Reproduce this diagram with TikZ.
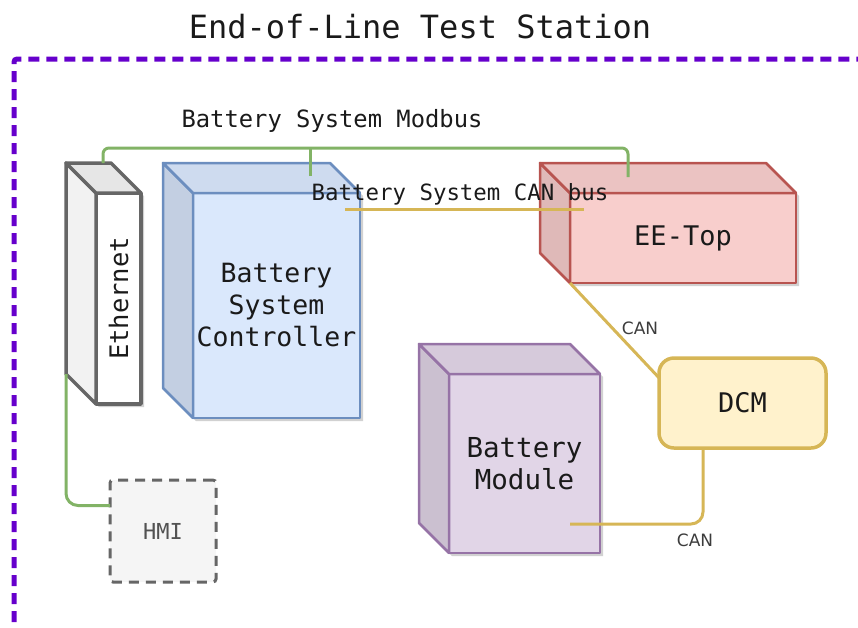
\documentclass[tikz,border=0pt]{standalone}
\usepackage{fontspec}
\setmonofont{DejaVu Sans Mono}
\newfontfamily\labelsans{DejaVu Sans}
\usetikzlibrary{calc,backgrounds}

\definecolor{frame}{HTML}{6600CC}
\definecolor{modbus}{HTML}{82B366}
\definecolor{canline}{HTML}{D6B656}
\definecolor{grayline}{HTML}{666666}
\definecolor{ethside}{HTML}{F2F2F2}
\definecolor{ethtopc}{HTML}{E6E6E6}
\definecolor{bscline}{HTML}{6C8EBF}
\definecolor{bscfront}{HTML}{DAE8FC}
\definecolor{bscside}{HTML}{C3CFE2}
\definecolor{bsctopc}{HTML}{CEDBEF}
\definecolor{eeline}{HTML}{B85450}
\definecolor{eefront}{HTML}{F8CECC}
\definecolor{eeside}{HTML}{DFB9B8}
\definecolor{eetopc}{HTML}{EBC3C2}
\definecolor{bmline}{HTML}{9673A6}
\definecolor{bmfront}{HTML}{E1D5E7}
\definecolor{bmside}{HTML}{CBC0D0}
\definecolor{bmtopc}{HTML}{D6CADB}
\definecolor{dcmfill}{HTML}{FFF2CC}
\definecolor{hmifill}{HTML}{F5F5F5}
\definecolor{txt}{HTML}{1A1A1A}

% side and top faces of a box drawn behind its front face node #1
\newcommand{\boxfaces}[5]{%
  \begin{scope}[on background layer]
    \fill[black,opacity=0.18]
      ($(#1.north west)+(-27,-27)$) -- ($(#1.north east)+(-27,-27)$) --
      ($(#1.north east)+(3,3)$) -- ($(#1.south east)+(3,3)$) --
      ($(#1.south west)+(3,3)$) -- ($(#1.south west)+(-27,-27)$) -- cycle;
  \end{scope}
  \filldraw[fill=#2,draw=#4,line width=#5,line join=round]
    (#1.north west) -- ++(-30,-30) -- ($(#1.south west)+(-30,-30)$) -- (#1.south west) -- cycle;
  \filldraw[fill=#3,draw=#4,line width=#5,line join=round]
    (#1.north west) -- ++(-30,-30) -- ($(#1.north east)+(-30,-30)$) -- (#1.north east) -- cycle;
}

\begin{document}
\begin{tikzpicture}[x=1pt,y=-1pt,
  boxfront/.style={rectangle,outer sep=0pt,inner sep=0pt,line join=round,align=center,text=txt},
  busgreen/.style={draw=modbus,line width=3pt},
  busyellow/.style={draw=canline,line width=3pt},
  monotext/.style={font=\ttfamily\fontsize{#1}{32}\selectfont,text=txt,inner sep=0pt},
  canlabel/.style={font=\labelsans\fontsize{17}{20}\selectfont,text=txt!85,inner sep=0pt}]
\useasboundingbox (0,0) rectangle (858,627);
\clip (0,0) rectangle (858,627);

% title
\node[monotext=32] (title) at (420,27) {End-of-Line Test Station};

% station frame
\draw[frame,line width=5pt,dash pattern=on 11pt off 7pt,rounded corners=3]
  (14,640) -- (14,59) -- (870,59);

% Ethernet switch
\node[boxfront,draw=grayline,fill=white,line width=3.5pt,
      minimum width=45pt,minimum height=211pt] (eth) at (118.5,298.5) {};
\boxfaces{eth}{ethside}{ethtopc}{grayline}{3.5pt}
\node[monotext=25.5,rotate=90] at (eth.center) {Ethernet};

% Battery System Controller
\node[boxfront,draw=bscline,fill=bscfront,line width=2.5pt,
      minimum width=167pt,minimum height=225pt,
      font=\ttfamily\fontsize{26.5}{32}\selectfont] (bsc) at (276.5,305.5)
      {Battery\\System\\Controller};
\boxfaces{bsc}{bscside}{bsctopc}{bscline}{2.5pt}

% EE-Top
\node[boxfront,draw=eeline,fill=eefront,line width=2.5pt,
      minimum width=226pt,minimum height=90pt,
      font=\ttfamily\fontsize{27}{32}\selectfont] (ee) at (683,238) {EE-Top};
\boxfaces{ee}{eeside}{eetopc}{eeline}{2.5pt}

% Battery Module
\node[boxfront,draw=bmline,fill=bmfront,line width=2.5pt,
      minimum width=151pt,minimum height=179pt,
      font=\ttfamily\fontsize{27.5}{32}\selectfont] (bm) at (524.5,463.5)
      {Battery\\Module};
\boxfaces{bm}{bmside}{bmtopc}{bmline}{2.5pt}

% DCM
\node[rectangle,rounded corners=15pt,draw=canline,fill=dcmfill,line width=3.5pt,
      outer sep=0pt,minimum width=167pt,minimum height=90pt,text=txt,
      font=\ttfamily\fontsize{27}{32}\selectfont] (dcm) at (742.5,403) {DCM};

% HMI
\node[rectangle,rounded corners=3pt,draw=grayline,fill=hmifill,line width=3pt,
      dash pattern=on 10pt off 7pt,outer sep=0pt,
      minimum width=106pt,minimum height=102pt,text=grayline!80!black,
      font=\ttfamily\fontsize{22}{26}\selectfont] (hmi) at (163,531) {HMI};

% connection points
\coordinate (busy) at (0,148);
\coordinate (ethtap) at ($(eth.north west)+(7,-30)$);
\coordinate (ethlow) at ($(eth.south west)+(-30,-30)$);
\coordinate (bsctap) at ($(bsc.north west)+(117,-17)$);
\coordinate (eetap) at ($(ee.north west)+(58,-16)$);
\coordinate (hmiin) at ($(hmi.north west)!0.25!(hmi.south west)$);
\coordinate (canL) at ($(bsc.north west)+(152,16)$);
\coordinate (canR) at ($(ee.north west)+(14,16)$);
\coordinate (dcmin) at ($(dcm.north west)!0.22!(dcm.south west)$);
\coordinate (dcmout) at ($(dcm.south west)+(44,0)$);
\coordinate (bmin) at ($(bm.north west)+(121,150)$);

% Modbus
\draw[busgreen,rounded corners=6pt] (ethtap) -- (ethtap |- busy) -| (eetap);
\draw[busgreen] (bsctap) -- (bsctap |- busy);
\draw[busgreen,rounded corners=12pt] (ethlow) |- (hmiin);

% CAN
\draw[busyellow] (canL) -- (canR);
\draw[busyellow] (ee.south west) -- (dcmin);
\draw[busyellow,rounded corners=12pt] (dcmout) |- (bmin);

% bus labels
\node[monotext=23.8] at (332,121) {Battery System Modbus};
\node[monotext=22.4] at (460,194) {Battery System CAN bus};
\node[canlabel] at (640,328) {CAN};
\node[canlabel] at (695,540) {CAN};
\end{tikzpicture}
\end{document}
